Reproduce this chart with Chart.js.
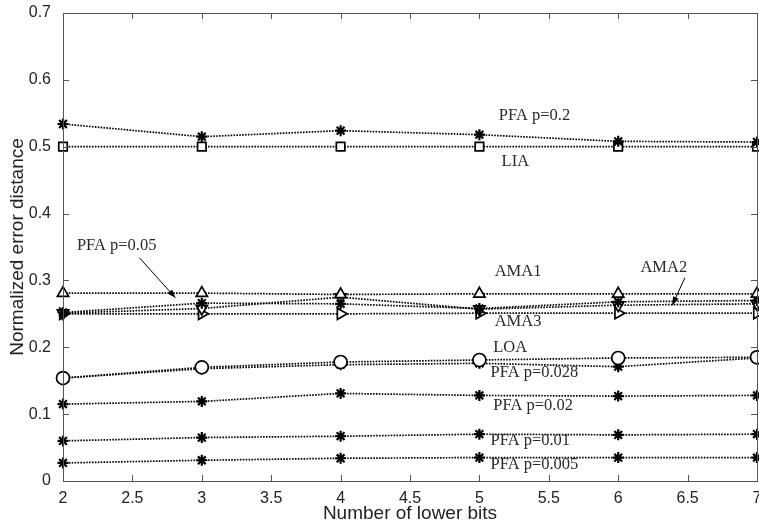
<!DOCTYPE html>
<html>
<head>
<meta charset="utf-8">
<script src="https://cdn.jsdelivr.net/npm/chart.js@4.4.1/dist/chart.umd.min.js"></script>
<style>
  html, body { margin: 0; padding: 0; background: #fff; }
  #wrap { width: 759px; height: 525px; }
</style>
</head>
<body>
<div id="wrap"><canvas id="edChart" width="759" height="525"></canvas></div>
<script>
// valeurs
const bits = [2, 3, 4, 5, 6, 7];
const pfa02 = [0.534, 0.515, 0.524, 0.518, 0.508, 0.507];
const lia = [0.500, 0.500, 0.500, 0.500, 0.500, 0.500];
const ama1 = [0.281, 0.281, 0.279, 0.280, 0.280, 0.280];
const pfa005 = [0.252, 0.266, 0.265, 0.258, 0.268, 0.270];
const ama2 = [0.251, 0.258, 0.275, 0.257, 0.263, 0.265];
const ama3 = [0.250, 0.250, 0.250, 0.251, 0.251, 0.251];
const loa = [0.154, 0.170, 0.178, 0.181, 0.184, 0.185];
const pfa0028 = [0.154, 0.168, 0.174, 0.176, 0.171, 0.184];
const pfa002 = [0.115, 0.119, 0.131, 0.128, 0.127, 0.128];
const pfa001 = [0.060, 0.065, 0.067, 0.070, 0.069, 0.070];
const pfa0005 = [0.027, 0.031, 0.034, 0.035, 0.035, 0.035];

const xTicks = [2, 2.5, 3, 3.5, 4, 4.5, 5, 5.5, 6, 6.5, 7];
const yTicks = [0, 0.1, 0.2, 0.3, 0.4, 0.5, 0.6, 0.7];

// textes posés sur le graphique (coordonnées en unités des axes)
const notes = [
    { text: 'PFA p=0.2', x: 5.14, y: 0.546 },
    { text: 'LIA', x: 5.16, y: 0.478 },
    { text: 'PFA p=0.05', x: 2.10, y: 0.352 },
    { text: 'AMA1', x: 5.11, y: 0.313 },
    { text: 'AMA2', x: 6.16, y: 0.319 },
    { text: 'AMA3', x: 5.11, y: 0.238 },
    { text: 'LOA', x: 5.10, y: 0.200 },
    { text: 'PFA p=0.028', x: 5.08, y: 0.162 },
    { text: 'PFA p=0.02', x: 5.10, y: 0.112 },
    { text: 'PFA p=0.01', x: 5.08, y: 0.060 },
    { text: 'PFA p=0.005', x: 5.08, y: 0.024 }
];
const arrows = [
    { from: [2.55, 0.334], to: [2.81, 0.274] },
    { from: [6.48, 0.304], to: [6.39, 0.263] }
];

function serie(label, values, style, rot) {
    const star = style === 'star';
    return {
        label: label,
        data: bits.map((b, i) => ({ x: b, y: values[i] })),
        borderColor: '#000',
        borderWidth: 1.7,
        borderDash: [1.6, 1.3],
        pointStyle: style,
        rotation: rot || 0,
        pointRadius: star ? 5.5 : (style === 'rect' ? 6 : 6.5),
        pointBorderWidth: star ? 2.2 : 1.7,
        pointBackgroundColor: '#fff',
        pointBorderColor: '#000',
        tension: 0,
        fill: false,
        clip: false
    };
}

const boxPlugin = {
    id: 'boxPlugin',
    afterDraw(chart) {
        const ctx = chart.ctx;
        const a = chart.chartArea;
        const xs = chart.scales.x, ys = chart.scales.y;
        ctx.save();
        ctx.strokeStyle = '#555';
        ctx.lineWidth = 1;
        ctx.strokeRect(Math.round(a.left) + 0.5, Math.round(a.top) + 0.5,
            Math.round(a.right - a.left), Math.round(a.bottom - a.top));
        // petites graduations vers l'intérieur
        xTicks.forEach(v => {
            const px = Math.round(xs.getPixelForValue(v)) + 0.5;
            ctx.beginPath();
            ctx.moveTo(px, a.bottom); ctx.lineTo(px, a.bottom - 6);
            ctx.moveTo(px, a.top); ctx.lineTo(px, a.top + 6);
            ctx.stroke();
        });
        yTicks.forEach(v => {
            const py = Math.round(ys.getPixelForValue(v)) + 0.5;
            ctx.beginPath();
            ctx.moveTo(a.left, py); ctx.lineTo(a.left + 6, py);
            ctx.moveTo(a.right, py); ctx.lineTo(a.right - 6, py);
            ctx.stroke();
        });
        // textes
        ctx.fillStyle = '#2a2a2a';
        ctx.font = '16.5px "Liberation Serif"';
        ctx.textBaseline = 'middle';
        ctx.textAlign = 'left';
        notes.forEach(n => {
            ctx.fillText(n.text, xs.getPixelForValue(n.x), ys.getPixelForValue(n.y));
        });
        // flèches
        ctx.strokeStyle = '#000';
        ctx.fillStyle = '#000';
        arrows.forEach(f => {
            const x1 = xs.getPixelForValue(f.from[0]), y1 = ys.getPixelForValue(f.from[1]);
            const x2 = xs.getPixelForValue(f.to[0]), y2 = ys.getPixelForValue(f.to[1]);
            const ang = Math.atan2(y2 - y1, x2 - x1);
            ctx.beginPath();
            ctx.moveTo(x1, y1); ctx.lineTo(x2, y2);
            ctx.stroke();
            ctx.beginPath();
            ctx.moveTo(x2, y2);
            ctx.lineTo(x2 - 9 * Math.cos(ang - 0.35), y2 - 9 * Math.sin(ang - 0.35));
            ctx.lineTo(x2 - 9 * Math.cos(ang + 0.35), y2 - 9 * Math.sin(ang + 0.35));
            ctx.closePath();
            ctx.fill();
        });
        ctx.restore();
    }
};

const ctx = document.getElementById('edChart').getContext('2d');
const edChart = new Chart(ctx, {
    type: 'line',
    data: {
        datasets: [
            serie('PFA p=0.2', pfa02, 'star'),
            serie('LIA', lia, 'rect'),
            serie('AMA1', ama1, 'triangle'),
            serie('PFA p=0.05', pfa005, 'star'),
            serie('AMA2', ama2, 'triangle', 180),
            serie('AMA3', ama3, 'triangle', 90),
            serie('LOA', loa, 'circle'),
            serie('PFA p=0.028', pfa0028, 'star'),
            serie('PFA p=0.02', pfa002, 'star'),
            serie('PFA p=0.01', pfa001, 'star'),
            serie('PFA p=0.005', pfa0005, 'star')
        ]
    },
    options: {
        responsive: false,
        animation: false,
        layout: { autoPadding: false, padding: { top: 13, right: 2, left: 0, bottom: 0 } },
        plugins: {
            legend: { display: false },
            tooltip: { enabled: false }
        },
        scales: {
            x: {
                type: 'linear',
                min: 2,
                max: 7,
                afterBuildTicks: s => { s.ticks = xTicks.map(v => ({ value: v })); },
                afterFit: s => { s.height = 44; s.paddingRight = 0; s.paddingLeft = 0; },
                grid: { display: false },
                border: { display: false },
                ticks: {
                    color: '#222',
                    font: { family: '"Liberation Sans"', size: 16 },
                    padding: 0,
                    maxRotation: 0,
                    callback: v => String(v)
                },
                title: {
                    display: true,
                    text: 'Number of lower bits',
                    color: '#222',
                    font: { family: '"Liberation Sans"', size: 19 },
                    padding: { top: 0, bottom: 0 }
                }
            },
            y: {
                min: 0,
                max: 0.7,
                afterBuildTicks: s => { s.ticks = yTicks.map(v => ({ value: v })); },
                afterFit: s => { s.width = 63; s.paddingTop = 0; s.paddingBottom = 0; },
                grid: { display: false },
                border: { display: false },
                ticks: {
                    color: '#222',
                    font: { family: '"Liberation Sans"', size: 16 },
                    padding: 4,
                    callback: v => String(Math.round(v * 10) / 10)
                },
                title: {
                    display: true,
                    text: 'Normalized error distance',
                    color: '#222',
                    font: { family: '"Liberation Sans"', size: 19 },
                    padding: { top: 6, bottom: 0 }
                }
            }
        }
    },
    plugins: [boxPlugin]
});
</script>
</body>
</html>
